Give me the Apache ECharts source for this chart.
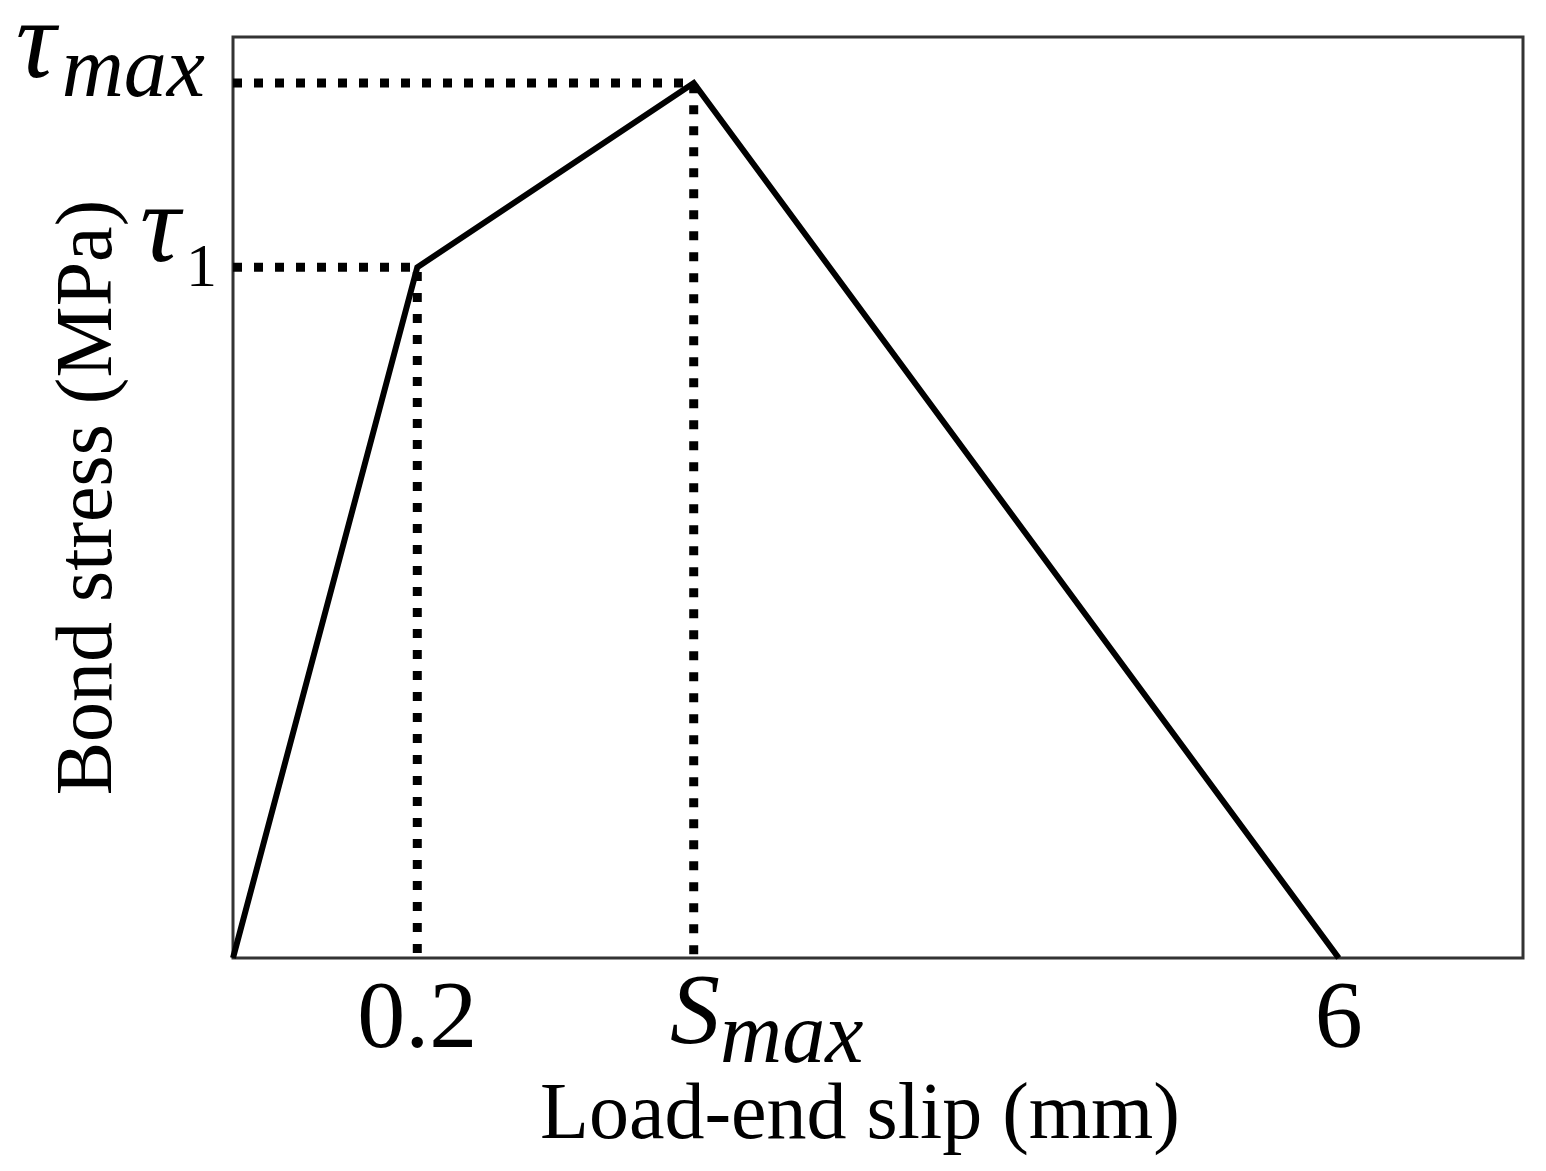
<!DOCTYPE html>
<html>
<head>
<meta charset="utf-8">
<script src="https://cdn.jsdelivr.net/npm/echarts@6/dist/echarts.min.js"></script>
<style>
html,body{margin:0;padding:0;background:#fff;}
#chart{width:1546px;height:1171px;}
</style>
</head>
<body>
<div id="chart"></div>
<script>
// Schematic bond-slip model (x positions are schematic, not to scale)
const slipPos = [0, 1.0, 2.5, 6];          // positions along the slip axis
const stress = [0, 0.75, 0.95, 0];         // normalised bond stress
const xTickPos = [1.0, 2.5, 6];
const xTickLabels = ['0.2', 'Smax', '6'];
const yTickPos = [0.75, 0.95];
const yTickLabels = ['tau1', 'taumax'];
const xMax = 7;
const yMax = 1;

const serif = '"Liberation Serif", "Times New Roman", serif';

const curve = slipPos.map((x, i) => [x, stress[i]]);
// guide lines for the two marked points (indices 1 and 2)
const guideSeries = [1, 2].map(i => ({
  type: 'line',
  data: [[0, stress[i]], [slipPos[i], stress[i]], [slipPos[i], 0]],
  symbol: 'none',
  silent: true,
  z: 2,
  lineStyle: { color: '#000', width: 9, type: [9, 12], cap: 'butt', join: 'miter' }
}));

function xLabel(v) {
  const idx = xTickPos.findIndex(p => Math.abs(p - v) < 1e-6);
  const t = idx >= 0 ? xTickLabels[idx] : '';
  if (t === 'Smax') return '{S|S}{m|max}';
  return '{n|' + t + '}';
}
function yLabel(v) {
  const idx = yTickPos.findIndex(p => Math.abs(p - v) < 1e-6);
  const t = idx >= 0 ? yTickLabels[idx] : '';
  if (t === 'taumax') return '{t|τ}{s|max}';
  if (t === 'tau1') return '{t|τ}{d|1}';
  return '';
}

const chart = echarts.init(document.getElementById('chart'));
chart.setOption({
  backgroundColor: '#fff',
  animation: false,
  grid: {
    left: 233, top: 37, right: 23, bottom: 213,
    containLabel: false, outerBoundsMode: 'none',
    show: true, borderColor: '#333', borderWidth: 3, backgroundColor: 'transparent'
  },
  xAxis: {
    type: 'value', min: 0, max: xMax,
    name: 'Load-end slip (mm)', nameLocation: 'middle', nameGap: 119, nameMoveOverlap: false,
    nameTextStyle: { fontFamily: serif, fontSize: 80, color: '#000', padding: [0, 36, 0, 0] },
    axisLine: { show: false }, axisTick: { show: false }, splitLine: { show: false },
    axisLabel: {
      customValues: xTickPos, margin: 8, color: '#000',
      formatter: xLabel,
      rich: {
        n: { fontFamily: serif, fontSize: 96, color: '#000', verticalAlign: 'bottom', padding: [8, 0, 20, 0] },
        S: { fontFamily: serif, fontStyle: 'italic', fontSize: 100, color: '#000', verticalAlign: 'bottom', padding: [0, 0, 16, 146] },
        m: { fontFamily: serif, fontStyle: 'italic', fontSize: 86, color: '#000', verticalAlign: 'bottom', padding: [0, 0, 0, 0] }
      }
    }
  },
  yAxis: {
    type: 'value', min: 0, max: yMax,
    name: 'Bond stress (MPa)', nameLocation: 'middle', nameGap: 103, nameRotate: 90, nameMoveOverlap: false,
    nameTextStyle: { fontFamily: serif, fontSize: 80, color: '#000' },
    axisLine: { show: false }, axisTick: { show: false }, splitLine: { show: false },
    axisLabel: {
      customValues: yTickPos, margin: 16, color: '#000',
      formatter: yLabel,
      padding: [0, 0, 58, 0],
      rich: {
        t: { fontFamily: serif, fontStyle: 'italic', fontSize: 112, color: '#000', verticalAlign: 'bottom', padding: [0, 6, 13, 0] },
        s: { fontFamily: serif, fontStyle: 'italic', fontSize: 86, color: '#000', verticalAlign: 'bottom', padding: [0, 12, 0, 0] },
        d: { fontFamily: serif, fontSize: 62, color: '#000', verticalAlign: 'bottom' }
      }
    }
  },
  series: guideSeries.concat([{
    type: 'line',
    data: curve,
    symbol: 'none',
    silent: true,
    z: 3,
    lineStyle: { color: '#000', width: 6, join: 'miter' }
  }])
});
</script>
</body>
</html>
